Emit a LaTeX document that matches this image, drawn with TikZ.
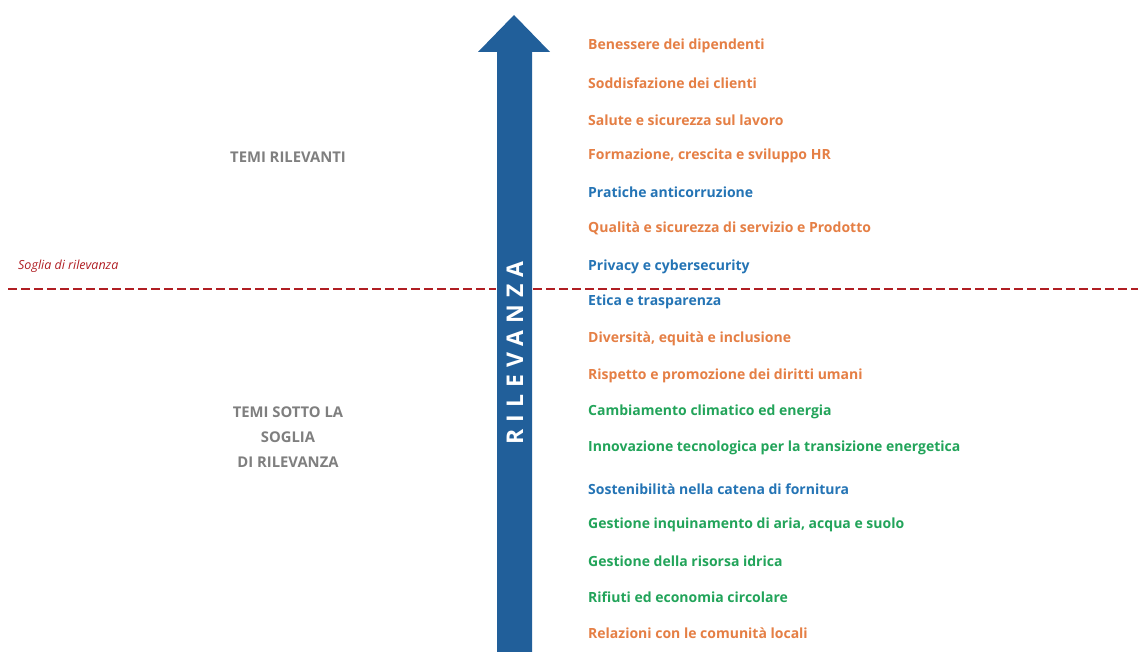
\documentclass[tikz,border=0pt]{standalone}
\usepackage{fontspec}
\setmainfont{Open Sans}
\newfontfamily\spacedfont[LetterSpace=31]{Open Sans}
\definecolor{arrowblue}{HTML}{215F9A}
\definecolor{torange}{HTML}{E57F45}
\definecolor{tblue}{HTML}{2474B5}
\definecolor{tgreen}{HTML}{22A45A}
\definecolor{tgray}{HTML}{7F7F7F}
\definecolor{tred}{HTML}{B01E23}
\begin{document}
\begin{tikzpicture}[x=1pt,y=-1pt,
  item/.style={anchor=west,inner sep=0pt,font=\fontsize{14}{16}\selectfont\bfseries},
  side/.style={align=center,inner sep=0pt,text=tgray,font=\fontsize{14.8}{25}\selectfont\bfseries},
  threshold/.style={tred,line width=2.3pt,dash pattern=on 9pt off 4pt}]
\useasboundingbox (0,0) rectangle (1138,652);
\fill[white] (0,0) rectangle (1138,652);
% arrow
\fill[arrowblue] (497,652) -- (497,52) -- (478,52) -- (514,15) -- (550,52) -- (532,52) -- (532,652) -- cycle;
\node[rotate=90,text=white,inner sep=0pt,font=\fontsize{23}{26}\selectfont\bfseries\spacedfont] (rel) at (515,353) {RILEVANZA};
% threshold
\coordinate (t1) at (8,289);
\coordinate (t2) at (496,289);
\coordinate (t3) at (533,289);
\coordinate (t4) at (1138,289);
\draw[threshold] (t1) -- (t2);
\draw[threshold] (t3) -- (t4);
\node[anchor=west,inner sep=0pt,text=tred,font=\fontsize{12.5}{14}\selectfont\itshape] (soglia) at (18,266) {Soglia di rilevanza};
% side labels
\node[side] (ril) at (288,157) {TEMI RILEVANTI};
\node[side] (sotto) at (288,437) {TEMI SOTTO LA\\SOGLIA\\DI RILEVANZA};
% items
\node[item,text=torange] (i1) at (588,46) {Benessere dei dipendenti};
\node[item,text=torange] (i2) at (588,83) {Soddisfazione dei clienti};
\node[item,text=torange] (i3) at (588,120) {Salute e sicurezza sul lavoro};
\node[item,text=torange] (i4) at (588,156) {Formazione, crescita e sviluppo HR};
\node[item,text=tblue] (i5) at (588,192) {Pratiche anticorruzione};
\node[item,text=torange] (i6) at (588,228) {Qualità e sicurezza di servizio e Prodotto};
\node[item,text=tblue] (i7) at (588,267) {Privacy e cybersecurity};
\node[item,text=tblue] (i8) at (588,302) {Etica e trasparenza};
\node[item,text=torange] (i9) at (588,339) {Diversità, equità e inclusione};
\node[item,text=torange] (i10) at (588,376) {Rispetto e promozione dei diritti umani};
\node[item,text=tgreen] (i11) at (588,412) {Cambiamento climatico ed energia};
\node[item,text=tgreen] (i12) at (588,448) {Innovazione tecnologica per la transizione energetica};
\node[item,text=tblue] (i13) at (588,489) {Sostenibilità nella catena di fornitura};
\node[item,text=tgreen] (i14) at (588,525) {Gestione inquinamento di aria, acqua e suolo};
\node[item,text=tgreen] (i15) at (588,561) {Gestione della risorsa idrica};
\node[item,text=tgreen] (i16) at (588,597) {Rifiuti ed economia circolare};
\node[item,text=torange] (i17) at (588,633) {Relazioni con le comunità locali};
\end{tikzpicture}
\end{document}
